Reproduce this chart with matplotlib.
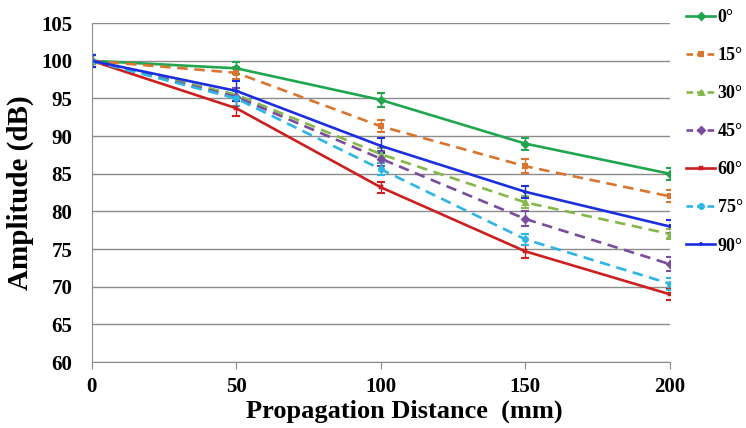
import numpy as np
import matplotlib.pyplot as plt
from matplotlib.lines import Line2D

dist = [0, 50, 100, 150, 200]
labels = ["0°", "15°", "30°", "45°", "60°", "75°", "90°"]
amp = [
    [100, 99.0, 94.8, 89.0, 85.0],
    [100, 98.4, 91.3, 86.0, 82.0],
    [100, 95.5, 87.6, 81.2, 77.0],
    [100, 95.2, 87.0, 79.0, 73.0],
    [100, 93.7, 83.2, 74.7, 69.0],
    [100, 95.0, 85.6, 76.3, 70.4],
    [100, 96.0, 88.7, 82.6, 78.0],
]
err = [
    [0.8, 0.8, 0.9, 0.8, 0.8],
    [0.8, 0.8, 0.8, 0.9, 0.8],
    [0.8, 0.9, 0.8, 0.8, 0.7],
    [0.8, 1.2, 1.0, 1.0, 0.9],
    [0.8, 1.0, 0.7, 0.9, 0.7],
    [0.8, 1.0, 0.8, 0.7, 0.8],
    [0.8, 1.3, 1.0, 0.8, 0.8],
]
colors = ["#1fa64e", "#d9752f", "#84b84a", "#7a4c9c", "#cc1f1f", "#2db5e6", "#1c2fe0"]
styles = ["-", "--", "--", "--", "-", "--", "-"]
markers = ["D", "s", "^", "D", "x", "o", "+"]

plt.rcParams["font.family"] = "Liberation Serif"
plt.rcParams["font.weight"] = "bold"

fig = plt.figure(figsize=(7.46, 4.28), dpi=100)
ax = fig.add_axes([0.123, 0.154, 0.775, 0.792])

handles = []
for i in range(len(labels)):
    dash = (4, 2.5) if styles[i] == "--" else (None, None)
    ax.errorbar(dist, amp[i], yerr=err[i], color=colors[i], ls=styles[i], lw=1.9,
                marker=markers[i], ms=3.5, mew=1.5, capsize=3, elinewidth=1,
                dashes=dash)
    handles.append(Line2D([], [], color=colors[i], ls=styles[i], lw=1.9,
                          dashes=(2.5, 1.5) if styles[i] == "--" else (None, None),
                          marker=markers[i], ms=3.5, mew=1.5, label=labels[i]))

ax.set_xlim(0, 200)
ax.set_ylim(60, 105)
ax.set_xticks(dist)
ax.set_yticks(np.arange(60, 106, 5))
ax.grid(axis="y", color="#8c8c8c", lw=1)
ax.set_axisbelow(True)
for s in ["top", "right"]:
    ax.spines[s].set_visible(False)
for s in ["left", "bottom"]:
    ax.spines[s].set_color("#8c8c8c")
ax.tick_params(axis="y", length=0, pad=14, labelsize=15)
ax.tick_params(axis="x", length=5, color="#8c8c8c", pad=6, labelsize=15)
for t in ax.get_xticklabels() + ax.get_yticklabels():
    t.set_fontweight("bold")

ax.set_xlabel("Propagation Distance  (mm)", fontsize=19, fontweight="bold", labelpad=0)
ax.xaxis.set_label_coords(0.54, -0.11)
ax.set_ylabel("Amplitude (dB)", fontsize=21, fontweight="bold", labelpad=5)

leg = ax.legend(handles=handles, loc="upper left", bbox_to_anchor=(1.0, 1.09), frameon=False,
                handlelength=1.6, labelspacing=1.17, handletextpad=0.15,
                prop={"weight": "bold", "size": 13})

fig.savefig("out.png", dpi=100)
